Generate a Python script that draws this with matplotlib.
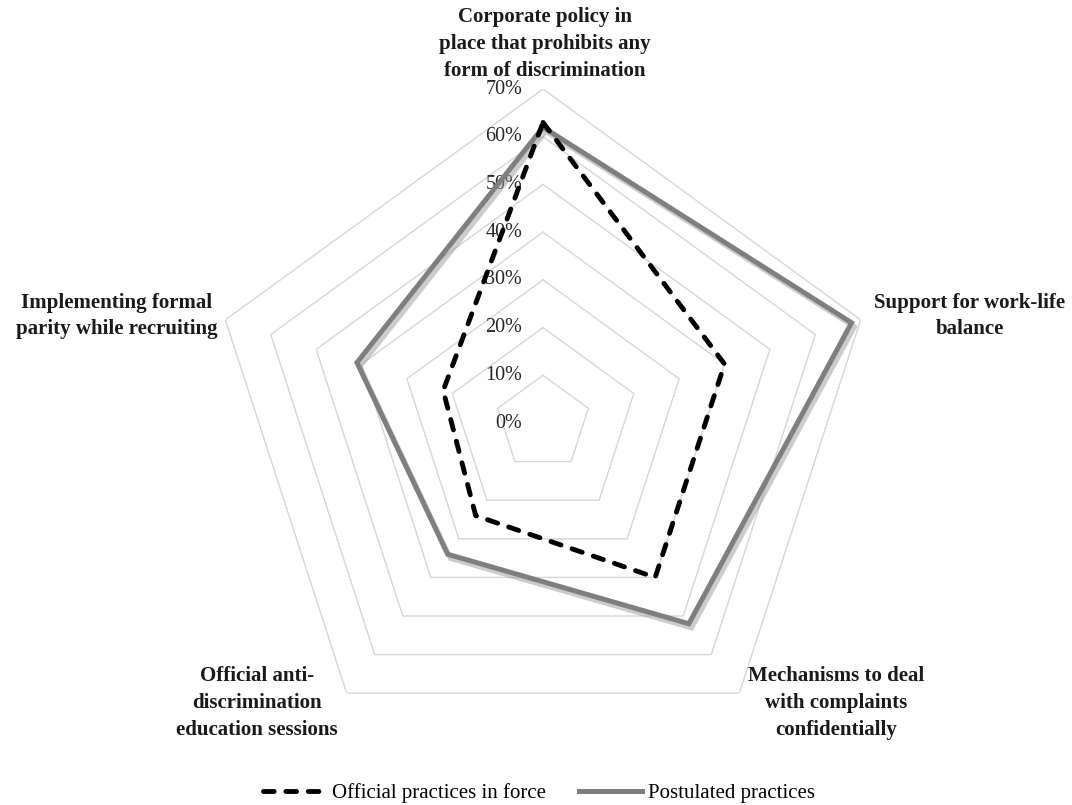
import numpy as np
import matplotlib.pyplot as plt
import matplotlib.patheffects as pe
from matplotlib.lines import Line2D

categories = [
    "Corporate policy in\nplace that prohibits any\nform of discrimination",
    "Support for work-life\nbalance",
    "Mechanisms to deal\nwith complaints\nconfidentially",
    "Official anti-\ndiscrimination\neducation sessions",
    "Implementing formal\nparity while recruiting",
]
official = [63, 40, 40, 24, 22]
postulated = [62, 68, 52, 34, 41]
ticks = [0, 10, 20, 30, 40, 50, 60, 70]

serif = "Liberation Serif"
W, H = 1072, 805

fig = plt.figure(figsize=(W / 100, H / 100), dpi=100)
fig.patch.set_facecolor("white")

# polar axes placed so the chart centre sits where it is in the original
ax = fig.add_axes([0.195, 0.0596, 0.6231, 0.8298], projection="polar")
ax.set_theta_offset(np.pi / 2)
ax.set_theta_direction(-1)
ax.set_ylim(0, 70)
ax.grid(False)
ax.spines["polar"].set_visible(False)
ax.set_xticks([])
ax.set_yticks([])
ax.patch.set_alpha(0)

n = len(categories)
angles = np.linspace(0, 2 * np.pi, n, endpoint=False)
ang = np.append(angles, angles[0])

# pentagon grid
for t in ticks[1:]:
    ax.plot(ang, [t] * (n + 1), color="#d6d6d6", lw=1.0, zorder=1)

for t in ticks:
    ax.annotate(f"{t}%", xy=(0, t), xytext=(-21, 0), textcoords="offset pixels",
                ha="right", va="center", fontsize=14.5, family=serif, color="#262626")

shadow = [pe.SimpleLineShadow(offset=(2, -3), shadow_color="#9a9a9a", alpha=0.5, rho=1),
          pe.Normal()]

ax.plot(ang, postulated + postulated[:1], color="#7f7f7f", lw=3.6,
        solid_joinstyle="miter", path_effects=shadow, zorder=3)
ax.plot(ang, official + official[:1], color="black", lw=3.5,
        dashes=(2.2, 2.4), dash_capstyle="round", zorder=4)

# category labels (pixel positions from the original layout)
label_pos = [(545, 44), (970, 316), (836, 703), (257, 703), (117, 316)]
for txt, (px, py) in zip(categories, label_pos):
    fig.text(px / W, 1 - py / H, txt, ha="center", va="center", fontsize=15,
             family=serif, fontweight="bold", color="#1a1a1a", linespacing=1.45)

handles = [
    Line2D([], [], color="black", lw=3.5, dashes=(2.2, 2.4), dash_capstyle="round"),
    Line2D([], [], color="#7f7f7f", lw=3.6),
]
fig.legend(handles, ["Official practices in force", "Postulated practices"],
           loc="center", bbox_to_anchor=(539 / W, 1 - 793 / H), ncol=2, frameon=False,
           prop={"family": serif, "size": 15}, handlelength=3.0, handletextpad=0.3,
           columnspacing=1.6)

fig.savefig("out.png", dpi=100, facecolor="white")
